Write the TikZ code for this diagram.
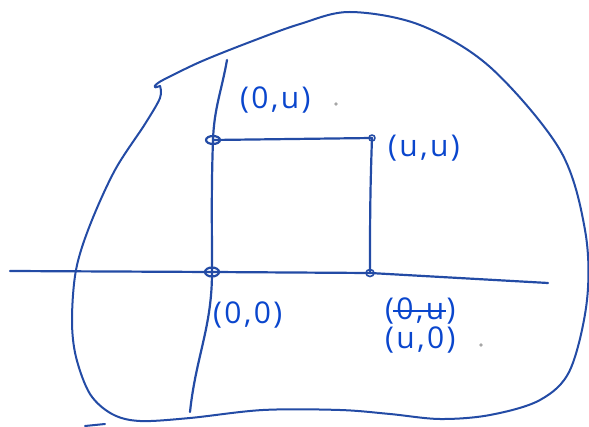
\documentclass[tikz,border=0pt]{standalone}
\usepackage{fontspec}
\setmainfont{Open Sans}
\definecolor{penline}{RGB}{35,75,165}
\definecolor{penink}{RGB}{10,70,205}
\tikzset{
  pen/.style={draw=penline, line width=2.2pt, line cap=round, line join=round},
  lbl/.style={text=penink, font=\fontsize{30}{32}\selectfont\addfontfeatures{LetterSpace=8}, inner sep=0pt},
  pendot/.style={fill=gray!70, draw=none}
}
\begin{document}
\begin{tikzpicture}[x=1pt,y=-1pt]
\useasboundingbox (0,0) rectangle (589,427);
% region outline
\draw[pen, line width=2pt] plot[smooth, tension=0.55] coordinates {
 (160,86) (160,98) (145,124) (115,170) (90,225) (76,270)
 (72,320) (76,357) (90,394) (112,414) (140,421) (190,418) (263,410) (340,410)
 (390,414) (440,419) (490,415) (540,400) (570,370) (587,300) (585,230)
 (560,150) (490,67) (420,25) (350,12) (300,24) (250,42) (200,62) (163,80)};
\draw[pen, line width=2pt] (163,80) .. controls (155,84) and (150,90) .. (160,86);
\draw[pen, line width=2pt] (85,426) -- (105,424);
% points
\coordinate (O) at (212,272);
\coordinate (A) at (213,140);
\coordinate (B) at (372,138);
\coordinate (C) at (370,273);
\coordinate (xl) at (10,271);
\coordinate (xr) at (548,283);
\coordinate (yt) at (227,60);
\coordinate (yb) at (190,412);
% axes
\draw[pen] (xl) -- (O) -- (C) -- (xr);
\draw[pen] (yt) to[out=-100, in=88] (A) to[out=-92, in=90] (O) to[out=-90, in=84] (yb);
% square
\draw[pen] (A) -- (B);
\draw[pen] (B) to[out=-92, in=90] (370,262) to[out=-90,in=90] (C);
% point markers
\draw[pen] (A) ellipse [x radius=7, y radius=4];
\draw[pen] (O) ellipse [x radius=7, y radius=4.5];
\draw[pen, line width=1.6pt] (B) circle [radius=3];
\draw[pen, line width=1.6pt] (C) ellipse [x radius=4, y radius=3.5];
% labels
\node[lbl, anchor=west] (lA) at (240,100) {(0,u)};
\node[lbl, anchor=west] (lB) at (388,148) {(u,u)};
\node[lbl, anchor=west] (lO) at (213,315) {(0,0)};
\node[lbl, anchor=west] (lX) at (385,311) {(0,u)};
\node[lbl, anchor=west] (lC) at (385,340) {(u,0)};
\draw[draw=penink, line width=2.4pt] ([xshift=8pt,yshift=0pt]lX.west) -- ([xshift=-10pt,yshift=0pt]lX.east);
\fill[pendot] (336,104) circle [radius=1.8];
\fill[pendot] (481,345) circle [radius=1.8];
\end{tikzpicture}
\end{document}
